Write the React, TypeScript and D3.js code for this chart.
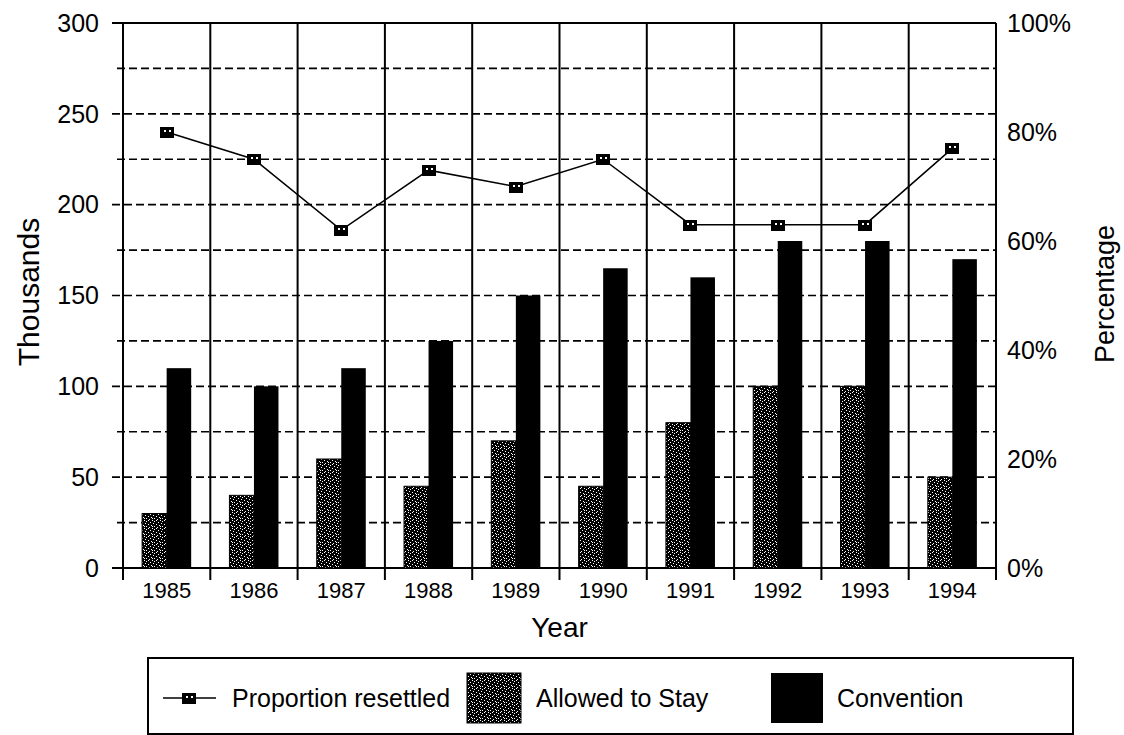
import React from 'react';
import * as d3 from 'd3';

const years = ['1985', '1986', '1987', '1988', '1989', '1990', '1991', '1992', '1993', '1994'];
const allowedToStay = [30, 40, 60, 45, 70, 45, 80, 100, 100, 50];
const convention = [110, 100, 110, 125, 150, 165, 160, 180, 180, 170];
const proportionResettled = [80, 75, 62, 73, 70, 75, 63, 63, 63, 77];
const leftTickValues = [0, 50, 100, 150, 200, 250, 300];
const gridValues = [0, 25, 50, 75, 100, 125, 150, 175, 200, 225, 250, 275, 300];
const rightTickValues = [0, 20, 40, 60, 80, 100];
const seriesKeys = ['allowed', 'convention'];
const legendLabels = ['Proportion resettled', 'Allowed to Stay', 'Convention'];

const FONT = 'Arial, "Liberation Sans", Helvetica, sans-serif';

const W = 1124;
const H = 735;
const left = 123;
const right = 996;
const top = 23;
const bottom = 568;

const dots: [number, number][] = [
  [0, 0], [4, 0], [2, 1], [6, 2], [1, 3], [4, 4], [7, 5], [2, 6], [5, 7], [0, 6],
];

export default function App() {
  const x = d3.scaleBand<string>().domain(years).range([left, right]).paddingInner(0).paddingOuter(0);
  const xs = d3.scaleBand<string>().domain(seriesKeys).range([0, x.bandwidth()]).paddingInner(0).paddingOuter(0.78);
  const y = d3.scaleLinear().domain([0, 300]).range([bottom, top]);
  const yR = d3.scaleLinear().domain([0, 100]).range([bottom, top]);

  const line = d3
    .line<number>()
    .x((_, i) => (x(years[i]) as number) + x.bandwidth() / 2)
    .y((d) => yR(d));

  const bounds = [...years.map((yr) => x(yr) as number), right];

  const Marker = ({ cx, cy }: { cx: number; cy: number }) => (
    <g transform={`translate(${cx},${cy})`} shapeRendering="crispEdges">
      <rect x={-7} y={-5} width={14} height={11} fill="#000" />
      <rect x={-3} y={-2} width={2} height={2} fill="#fff" />
      <rect x={2} y={-2} width={2} height={2} fill="#fff" />
    </g>
  );

  return (
    <svg
      width={W}
      height={H}
      style={{ position: 'absolute', left: 0, top: 0, background: '#fff' }}
      fontFamily={FONT}
    >
      <defs>
        <pattern id="stay" patternUnits="userSpaceOnUse" width={8} height={8}>
          <rect width={8} height={8} fill="#000" />
          {dots.map(([dx, dy], i) => (
            <rect key={i} x={dx} y={dy} width={1} height={1} fill="#fff" shapeRendering="crispEdges" />
          ))}
        </pattern>
      </defs>
      <rect width={W} height={H} fill="#fff" />

      {gridValues.map((v) => (
        <line
          key={'g' + v}
          x1={left - (v % 50 === 0 ? 11 : 6)}
          x2={right}
          y1={y(v)}
          y2={y(v)}
          stroke="#000"
          strokeWidth={v === 300 || v === 0 ? 2 : 1.6}
          strokeDasharray={v === 300 || v === 0 ? undefined : '8,4'}
        />
      ))}

      {bounds.map((bx, i) => (
        <line key={'v' + i} x1={bx} x2={bx} y1={top} y2={bottom + 12} stroke="#000" strokeWidth={2} />
      ))}

      {years.map((yr, i) => {
        const gx = x(yr) as number;
        return (
          <g key={'b' + yr}>
            <rect
              x={gx + (xs('allowed') as number)}
              y={y(allowedToStay[i])}
              width={xs.bandwidth()}
              height={bottom - y(allowedToStay[i])}
              fill="url(#stay)"
              stroke="#000"
              strokeWidth={1}
            />
            <rect
              x={gx + (xs('convention') as number)}
              y={y(convention[i])}
              width={xs.bandwidth()}
              height={bottom - y(convention[i])}
              fill="#000"
            />
          </g>
        );
      })}

      <path d={line(proportionResettled) || ''} fill="none" stroke="#000" strokeWidth={1.5} />
      {proportionResettled.map((v, i) => (
        <Marker key={'m' + i} cx={(x(years[i]) as number) + x.bandwidth() / 2} cy={yR(v)} />
      ))}

      {leftTickValues.map((v) => (
        <text key={'lt' + v} x={99} y={y(v)} dy="0.35em" textAnchor="end" fontSize={25} fill="#000">
          {v}
        </text>
      ))}
      {rightTickValues.map((v) => (
        <text key={'rt' + v} x={1007} y={yR(v)} dy="0.35em" textAnchor="start" fontSize={25} fill="#000">
          {v}%
        </text>
      ))}
      {years.map((yr) => (
        <text
          key={'yl' + yr}
          x={(x(yr) as number) + x.bandwidth() / 2}
          y={590}
          dy="0.35em"
          textAnchor="middle"
          fontSize={22}
          fill="#000"
        >
          {yr}
        </text>
      ))}

      <text x={(left + right) / 2} y={627} dy="0.35em" textAnchor="middle" fontSize={28} fill="#000">
        Year
      </text>
      <text
        transform={`translate(28,292) rotate(-90)`}
        dy="0.35em"
        textAnchor="middle"
        fontSize={30}
        fill="#000"
      >
        Thousands
      </text>
      <text
        transform={`translate(1105,294) rotate(-90)`}
        dy="0.35em"
        textAnchor="middle"
        fontSize={27}
        fill="#000"
      >
        Percentage
      </text>

      <rect x={148} y={658} width={925} height={76} fill="none" stroke="#000" strokeWidth={2} />
      <line x1={163} x2={216} y1={698} y2={698} stroke="#000" strokeWidth={1.5} />
      <Marker cx={189} cy={698} />
      <text x={232} y={698} dy="0.35em" fontSize={25} fill="#000">
        {legendLabels[0]}
      </text>
      <rect x={467} y={673} width={54} height={50} fill="url(#stay)" stroke="#000" strokeWidth={1} />
      <text x={536} y={698} dy="0.35em" fontSize={25} fill="#000">
        {legendLabels[1]}
      </text>
      <rect x={771} y={673} width={52} height={50} fill="#000" />
      <text x={837} y={698} dy="0.35em" fontSize={25} fill="#000">
        {legendLabels[2]}
      </text>
    </svg>
  );
}
